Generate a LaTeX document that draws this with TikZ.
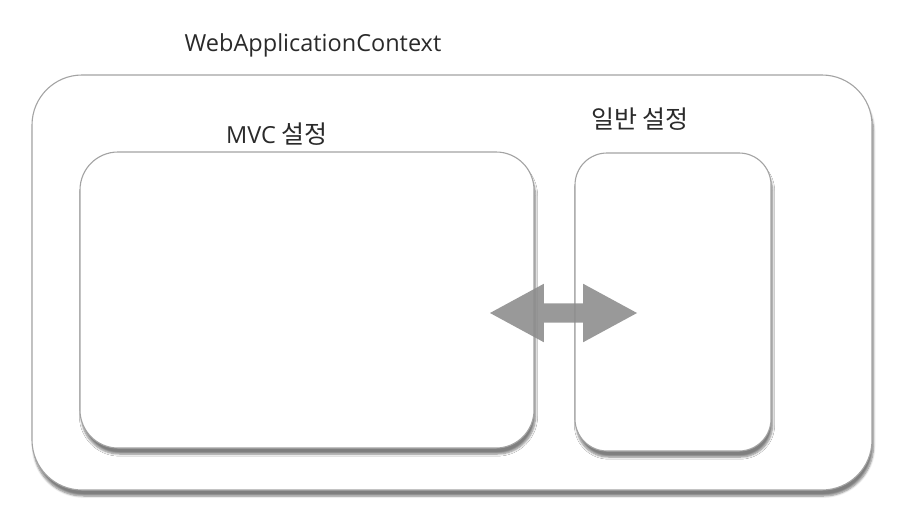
\documentclass[tikz,border=0pt]{standalone}
\usepackage{fontspec}
\setmainfont{Open Sans}
\newfontfamily\kr{Noto Sans CJK KR}
\usepackage{xcolor}
\usepackage{tikz}
\usetikzlibrary{shapes.arrows, shadows.blur}
\definecolor{ink}{HTML}{2A2A2A}
\definecolor{edge}{HTML}{A3A3A3}
\definecolor{carrow}{HTML}{8C8C8C}
\newcommand{\krfont}{\kr\fontsize{25}{29}\selectfont}
\tikzset{
  panel/.style={draw=edge, line width=1.1pt, fill=white, inner sep=0pt,
    blur shadow={shadow xshift=1.5pt, shadow yshift=-6pt, shadow blur steps=6, shadow opacity=50}},
  title/.style={font=\fontsize{23.5}{27}\selectfont, color=ink, inner sep=0pt}
}
\begin{document}
\begin{tikzpicture}[x=1pt, y=-1pt]
    \useasboundingbox (0,0) rectangle (902,514);
    % outer context and the two configuration panels
    \node[panel, rounded corners=50pt, minimum width=840pt, minimum height=415pt] (ctx) at (452,282.5) {};
    \node[panel, rounded corners=38pt, minimum width=454pt, minimum height=296pt] (mvc) at (307,300) {};
    \node[panel, rounded corners=32pt, minimum width=196pt, minimum height=298pt] (gen) at (673,302) {};
    % titles above each panel
    \node[title] (ctxlabel) at (313,45) {WebApplicationContext};
    \node[title] (mvclabel) at (277,134) {MVC {\krfont 설정}};
    \node[title] (genlabel) at (640,119) {\krfont 일반 설정};
    % link between the panels
    \node[double arrow, fill=carrow, fill opacity=0.88, inner xsep=0pt, inner ysep=9.5pt,
      minimum height=147pt, double arrow head extend=19.5pt,
      double arrow tip angle=57] (link) at (563.5,313) {};
  \end{tikzpicture}
\end{document}
